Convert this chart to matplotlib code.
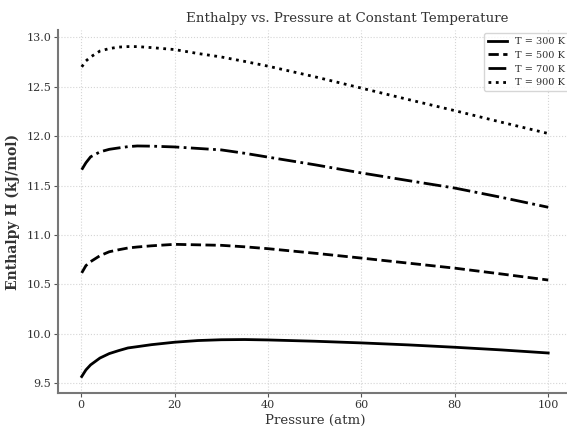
import matplotlib
matplotlib.use("Agg")
import matplotlib.pyplot as plt

# pressure points (atm) and enthalpy readings (kJ/mol) per temperature
pressure = [0.1, 1, 2, 4, 6, 8, 10, 12, 15, 20, 25, 30, 35, 40, 50, 60, 70, 80, 90, 100]
h_300 = [9.568, 9.635, 9.686, 9.755, 9.800, 9.830, 9.857, 9.870, 9.890, 9.915, 9.932, 9.940,
         9.942, 9.938, 9.925, 9.908, 9.888, 9.864, 9.837, 9.806]
h_500 = [10.616, 10.690, 10.730, 10.790, 10.830, 10.850, 10.868, 10.878, 10.890, 10.905, 10.900,
         10.895, 10.880, 10.861, 10.815, 10.766, 10.715, 10.664, 10.605, 10.544]
h_700 = [11.660, 11.730, 11.790, 11.840, 11.866, 11.880, 11.893, 11.900, 11.898, 11.890, 11.875,
         11.860, 11.826, 11.787, 11.710, 11.627, 11.550, 11.474, 11.380, 11.280]
h_900 = [12.700, 12.760, 12.800, 12.860, 12.885, 12.900, 12.905, 12.905, 12.895, 12.875, 12.835,
         12.800, 12.755, 12.707, 12.600, 12.485, 12.370, 12.257, 12.140, 12.026]

series = [("T = 300 K", h_300, "-"),
          ("T = 500 K", h_500, "--"),
          ("T = 700 K", h_700, "-."),
          ("T = 900 K", h_900, ":")]

plt.rcParams["font.family"] = "DejaVu Serif"
plt.rcParams["text.color"] = "#333333"
plt.rcParams["axes.labelcolor"] = "#333333"
plt.rcParams["xtick.color"] = "#555555"
plt.rcParams["ytick.color"] = "#555555"
plt.rcParams["xtick.labelcolor"] = "#333333"
plt.rcParams["ytick.labelcolor"] = "#333333"

fig = plt.figure(figsize=(5.67, 4.30), dpi=100)
ax = fig.add_axes([0.103, 0.086, 0.905, 0.844])

for label, h, ls in series:
    ax.plot(pressure, h, color="black", linestyle=ls, linewidth=2, label=label)

ax.set_title("Enthalpy vs. Pressure at Constant Temperature", fontsize=9.6, x=0.563, pad=6)
ax.set_xlabel("Pressure (atm)", fontsize=9.6, labelpad=3)
ax.set_ylabel("Enthalpy H (kJ/mol)", fontsize=10, fontweight="bold", labelpad=5)
ax.tick_params(labelsize=8, length=3, pad=2)

ax.grid(True, linestyle=":", color="#d5d5d5", linewidth=0.8)
for side in ["top", "right"]:
    ax.spines[side].set_visible(False)
for side in ["left", "bottom"]:
    ax.spines[side].set_color("#777777")
    ax.spines[side].set_linewidth(1.5)

ax.legend(loc="upper right", fontsize=7, handlelength=2, borderaxespad=0.3)

fig.savefig("out.png", dpi=100)
